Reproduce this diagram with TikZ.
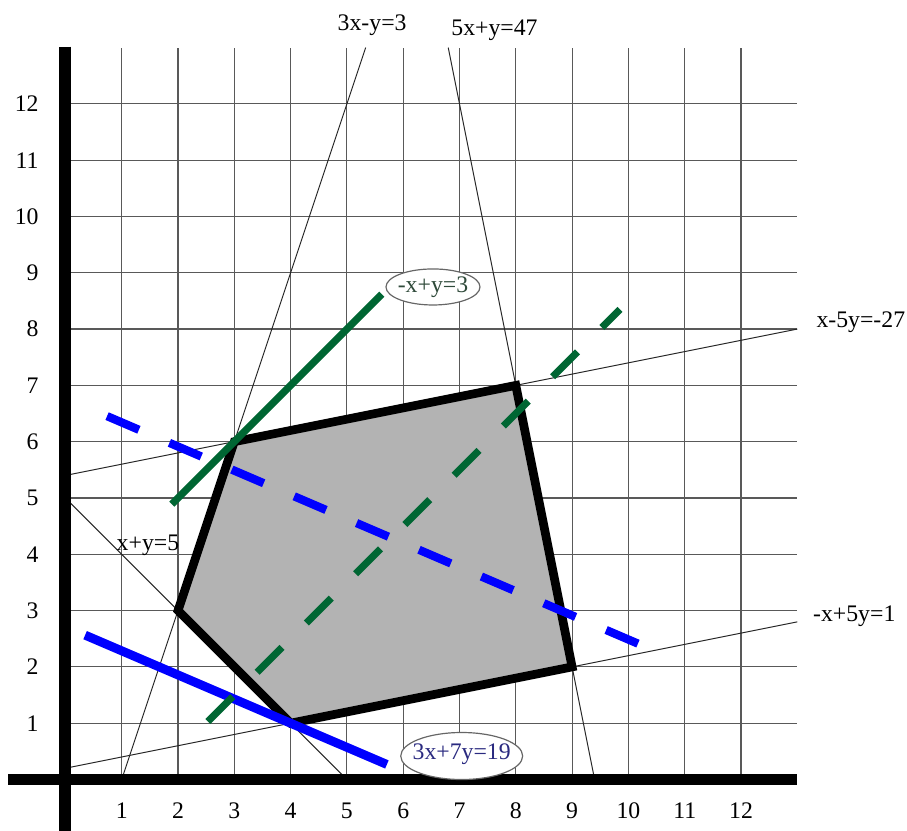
\documentclass[tikz,border=0pt]{standalone}
\usepackage{fontspec}
\setmainfont{Liberation Serif}
\usetikzlibrary{shapes.geometric}
\definecolor{polyfill}{HTML}{B3B3B3}
\definecolor{dkgreen}{HTML}{006633}
\definecolor{navytext}{HTML}{2A2A80}
\definecolor{greentext}{HTML}{2F4A3A}
\begin{document}
\begin{tikzpicture}[
  gridline/.style={black!65, line width=0.6pt},
  thinline/.style={black!85, line width=0.5pt},
  axisline/.style={black, line width=6pt},
  lab/.style={font=\fontsize{12}{14}\selectfont, inner sep=0pt},
  polyedge/.style={black, line width=4.4pt, fill=polyfill},
  bluesolid/.style={blue, line width=4.5pt},
  greensolid/.style={dkgreen, line width=3.6pt},
  greendash/.style={dkgreen, line width=3.6pt, dash pattern=on 17.8pt off 17.4pt},
  bluedash/.style={blue, line width=4.2pt, dash pattern=on 17.5pt off 16.8pt},
  labelellipse/.style={draw=black!60, fill=white, line width=0.6pt}
]
\useasboundingbox (-1.1616,-0.9147) rectangle (14.9485,13.845);
% grid
\foreach \i in {1,...,12} {
  \draw[gridline] (\i,0) -- (\i,13);
  \draw[gridline] (0,\i) -- (13,\i);
}
% constraint lines
\coordinate (a1) at (1,0);      \coordinate (a2) at (5.3333,13);
\coordinate (b1) at (6.8,13);   \coordinate (b2) at (9.4,0);
\coordinate (c1) at (0,5.4);    \coordinate (c2) at (13,8);
\coordinate (d1) at (0,0.2);    \coordinate (d2) at (13,2.8);
\coordinate (f1) at (0,5);      \coordinate (f2) at (5,0);
\draw[thinline] (a1) -- (a2);
\draw[thinline] (b1) -- (b2);
\draw[thinline] (c1) -- (c2);
\draw[thinline] (d1) -- (d2);
\draw[thinline] (f1) -- (f2);
% feasible region
\draw[polyedge] (3,6) -- (8,7) -- (9,2) -- (4,1) -- (2,3) -- cycle;
% axes
\coordinate (ytop) at (0,13.015); \coordinate (ybot) at (0,-1.2);
\coordinate (xleft) at (-1.014,0); \coordinate (xright) at (13,0);
\draw[axisline] (ytop) -- (ybot);
\draw[axisline] (xleft) -- (xright);
% tick labels
\foreach \i in {1,...,12} {
  \node[lab] (xl\i) at (\i,-0.56) {\i};
  \node[lab, anchor=east] (yl\i) at (-0.47,\i) {\i};
}
% constraint labels
\node[lab, anchor=base west] (l1) at (4.83,13.30) {3x-y=3};
\node[lab, anchor=base west] (l2) at (6.85,13.206) {5x+y=47};
\node[lab, anchor=base west] (l3) at (13.335,8.032) {x-5y=-27};
\node[lab, anchor=base west] (l4) at (13.275,2.803) {-x+5y=1};
\node[lab, anchor=base west] (l5) at (0.905,4.076) {x+y=5};
% objective lines
\coordinate (p1) at (0.35,2.564);  \coordinate (p2) at (5.71,0.267);
\coordinate (q1) at (1.89,4.89);   \coordinate (q2) at (5.62,8.62);
\coordinate (r1) at (2.53,1.03);   \coordinate (r2) at (9.85,8.35);
\coordinate (s1) at (0.74,6.454);  \coordinate (s2) at (10.24,2.383);
\draw[bluesolid] (p1) -- (p2);
\draw[greensolid] (q1) -- (q2);
\draw[bluedash] (s1) -- (s2);
\draw[greendash] (r1) -- (r2);
% ellipse labels
\coordinate (ce1) at (6.529,8.748);
\coordinate (ce2) at (7.039,0.417);
\draw[labelellipse] (ce1) ellipse [x radius=0.835, y radius=0.32];
\draw[labelellipse] (ce2) ellipse [x radius=1.083, y radius=0.4175];
\node[lab, text=greentext] (e1) at (ce1) {-x+y=3};
\node[lab, text=navytext] (e2) at ([yshift=0.03cm]ce2) {3x+7y=19};
\end{tikzpicture}
\end{document}
